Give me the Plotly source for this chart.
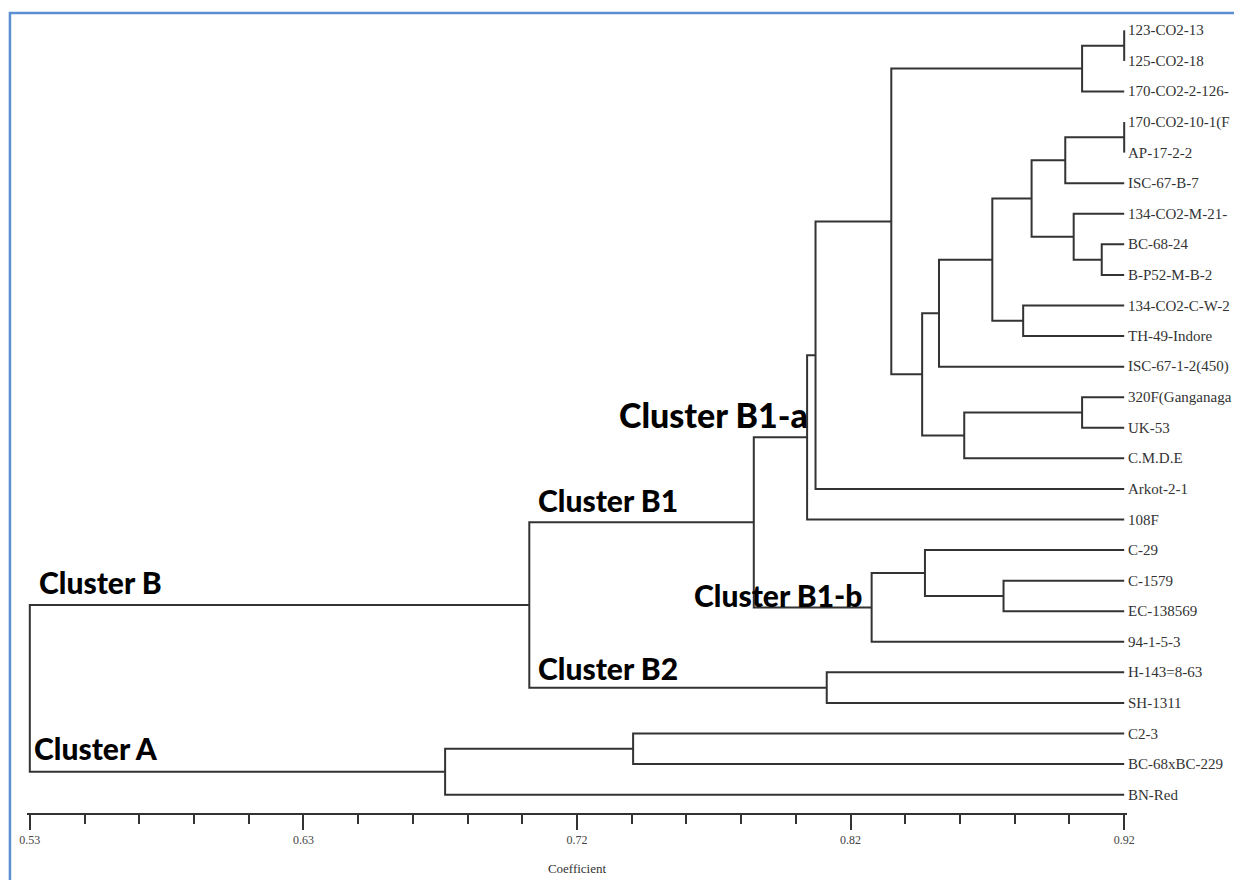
import plotly.graph_objects as go

# ---------------- data ----------------
leaves = [
    "123-CO2-13", "125-CO2-18", "170-CO2-2-126-", "170-CO2-10-1(F", "AP-17-2-2",
    "ISC-67-B-7", "134-CO2-M-21-", "BC-68-24", "B-P52-M-B-2", "134-CO2-C-W-2",
    "TH-49-Indore", "ISC-67-1-2(450)", "320F(Ganganaga", "UK-53", "C.M.D.E",
    "Arkot-2-1", "108F", "C-29", "C-1579", "EC-138569", "94-1-5-3",
    "H-143=8-63", "SH-1311", "C2-3", "BC-68xBC-229", "BN-Red",
]
leaf_height = 0.92

# linkage: node id = 26 + row index
merge_left = [0, 26, 3, 28, 7, 6, 29, 9, 32, 34, 12, 36, 35, 27, 39, 40, 18, 17, 43, 41, 21, 45, 23, 48, 49]
merge_right = [1, 2, 4, 5, 8, 30, 31, 10, 33, 11, 13, 14, 37, 38, 15, 16, 19, 42, 20, 44, 22, 46, 24, 25, 47]
merge_height = [0.920, 0.905, 0.920, 0.899, 0.912, 0.902, 0.887, 0.884, 0.873, 0.854,
                0.905, 0.863, 0.848, 0.837, 0.810, 0.807, 0.877, 0.849, 0.830, 0.788,
                0.814, 0.708, 0.745, 0.678, 0.530]

tick_vals = [0.53, 0.6275, 0.725, 0.8225, 0.92]
tick_text = ["0.53", "0.63", "0.72", "0.82", "0.92"]
minor_step = 0.0195

cluster_names = ["Cluster B", "Cluster A", "Cluster B1", "Cluster B2", "Cluster B1-a", "Cluster B1-b"]
cluster_nodes = [47, 49, 45, 46, 41, 44]  # node whose branch carries the label

# ---------------- build dendrogram geometry ----------------
n = len(leaves)
pos_y = {i: float(i) for i in range(n)}
pos_h = {i: leaf_height for i in range(n)}
xs, ys = [], []
for k, (a, b, h) in enumerate(zip(merge_left, merge_right, merge_height)):
    node = n + k
    ya, yb = pos_y[a], pos_y[b]
    xs += [pos_h[a], h, h, pos_h[b], None]
    ys += [ya, ya, yb, yb, None]
    pos_y[node] = (ya + yb) / 2
    pos_h[node] = h

fig = go.Figure()
fig.add_trace(go.Scatter(x=xs, y=ys, mode="lines",
                         line=dict(color="#333333", width=2),
                         hoverinfo="skip", showlegend=False))

# leaf labels
for i, name in enumerate(leaves):
    fig.add_annotation(x=leaf_height, y=i, text=name, showarrow=False,
                       xanchor="left", yanchor="middle", xshift=2,
                       font=dict(family="Liberation Serif", size=15, color="#333333"))

# cluster labels
parent_of = {}
for k, (a, b) in enumerate(zip(merge_left, merge_right)):
    parent_of[a] = n + k
    parent_of[b] = n + k

label_style = {
    "Cluster B":    dict(anchor="left",  ref="parent", xs=7,  ys=23, size=30),
    "Cluster A":    dict(anchor="left",  ref="parent", xs=2,  ys=24, size=30),
    "Cluster B1":   dict(anchor="left",  ref="parent", xs=7,  ys=22, size=30),
    "Cluster B2":   dict(anchor="left",  ref="parent", xs=7,  ys=20, size=30),
    "Cluster B1-a": dict(anchor="right", ref="self",   xs=3,  ys=23, size=34),
    "Cluster B1-b": dict(anchor="right", ref="self",   xs=-8, ys=12, size=30),
}
for name, node in zip(cluster_names, cluster_nodes):
    st = label_style[name]
    xh = pos_h[parent_of[node]] if st["ref"] == "parent" else pos_h[node]
    fig.add_annotation(x=xh, y=pos_y[node], text=name, showarrow=False,
                       xanchor=st["anchor"], yanchor="middle",
                       xshift=st["xs"], yshift=st["ys"],
                       font=dict(family="Lato", size=st["size"], color="#000000", weight=900))

# blue frame around the picture
fig.add_shape(type="rect", xref="paper", yref="paper",
              x0=-0.0155, x1=1.1027, y0=-0.12, y1=0.9988,
              line=dict(color="#5b8fd0", width=2.5), layer="above")

fig.update_layout(
    width=1234, height=872,
    margin=dict(l=19, r=115, t=4, b=67),
    paper_bgcolor="white", plot_bgcolor="white",
    showlegend=False,
    xaxis=dict(range=[0.529, 0.921], showgrid=False, zeroline=False,
               showline=True, linecolor="#333333", linewidth=2,
               tickmode="array", tickvals=tick_vals, ticktext=tick_text,
               ticks="outside", ticklen=15, tickwidth=2, tickcolor="#333333",
               minor=dict(tick0=0.53, dtick=minor_step, ticks="outside", ticklen=9,
                          tickwidth=1.5, tickcolor="#333333", showgrid=False),
               tickfont=dict(family="Liberation Serif", size=12, color="#444444"),
               title=dict(text="Coefficient", standoff=17,
                          font=dict(family="Liberation Serif", size=13, color="#333333"))),
    yaxis=dict(range=[n - 1 + 0.6, -0.6], showgrid=False, zeroline=False,
               showline=False, showticklabels=False, ticks=""),
)

fig.write_html("out.html")
